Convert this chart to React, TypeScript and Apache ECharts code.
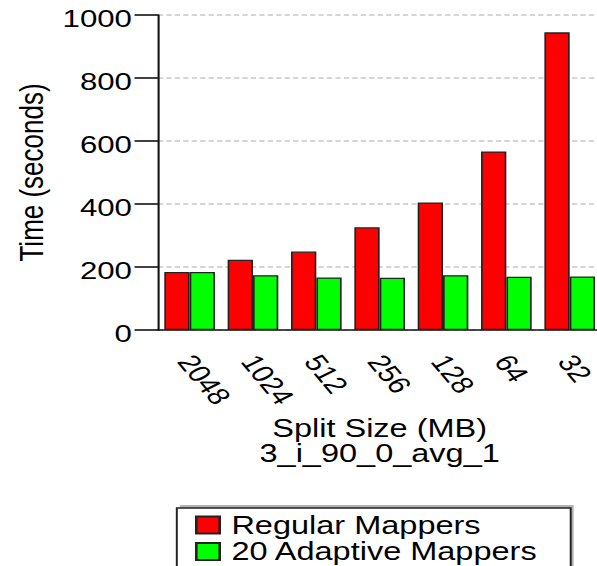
import React, { useEffect, useRef } from "react";
import * as echarts from "echarts";

const categories = ["2048", "1024", "512", "256", "128", "64", "32"];
const regularMappers = [184, 223, 249, 326, 405, 567, 945];
const adaptiveMappers = [184, 174, 167, 166, 174, 169, 170];
const yTicks = { min: 0, max: 1000, interval: 200 };

const SX = 1.3;
const W = 466;
const H = 566;
const FONT = "'Liberation Sans', Arial, Helvetica, sans-serif";

export default function App() {
  const ref = useRef<HTMLDivElement>(null);
  useEffect(() => {
    if (!ref.current) return;
    const chart = echarts.init(ref.current, undefined, { renderer: "svg", width: W, height: H });
    chart.setOption({
      animation: false,
      backgroundColor: "#fff",
      textStyle: { fontFamily: FONT, color: "#000" },
      grid: { left: 121.5, right: 3.4, top: 15, bottom: 236, containLabel: false },
      graphic: [
        {
          type: "rect",
          z: 0,
          silent: true,
          shape: { x: 138.3, y: 505, width: 303, height: 90 },
          style: { fill: "#b4b4b4" },
        },
        {
          type: "rect",
          z: 1,
          silent: true,
          shape: { x: 136, y: 508, width: 303, height: 90 },
          style: { fill: "#fff", stroke: "#222", lineWidth: 1.5 },
        },
      ],
      legend: {
        orient: "vertical",
        left: 150,
        top: 512.5,
        z: 5,
        itemWidth: 18,
        itemHeight: 17,
        itemGap: 1.5,
        padding: 0,
        icon: "rect",
        textStyle: { fontSize: 25, color: "#000", fontFamily: FONT, padding: [0, 0, 0, 4] },
        data: ["Regular Mappers", "20 Adaptive Mappers"],
      },
      xAxis: {
        type: "category",
        data: categories,
        name: "Split Size (MB)\n3_i_90_0_avg_1",
        nameLocation: "middle",
        nameGap: 85,
        nameTextStyle: { fontSize: 25, lineHeight: 25, color: "#000", fontFamily: FONT },
        axisLine: { lineStyle: { color: "#111", width: 1.6 } },
        axisTick: { alignWithLabel: true, length: 17, lineStyle: { color: "#111", width: 1.6 } },
        axisLabel: {
          rotate: -57,
          margin: 25,
          color: "#000",
          fontFamily: FONT,
          interval: 0,
          align: "left",
          verticalAlign: "middle",
          formatter: (v: string) => `{t|${v}}`,
          rich: {
            t: { fontSize: 24, color: "#000", fontFamily: FONT, padding: [8, 0, 0, 0] },
          },
        },
        splitLine: { show: false },
      },
      yAxis: {
        type: "value",
        min: yTicks.min,
        max: yTicks.max,
        interval: yTicks.interval,
        name: "Time (seconds)",
        nameLocation: "middle",
        nameGap: 68,
        nameTextStyle: { fontSize: 26, color: "#000", fontFamily: FONT },
        axisLine: { show: true, lineStyle: { color: "#111", width: 1.6 } },
        axisTick: { show: true, length: 18, lineStyle: { color: "#111", width: 1.6 } },
        axisLabel: {
          margin: 20,
          color: "#000",
          fontFamily: FONT,
          formatter: (v: number) => `{v|${v}}`,
          rich: {
            v: { fontSize: 24, color: "#000", fontFamily: FONT, padding: [8, 0, 0, 0] },
          },
        },
        splitLine: { show: true, lineStyle: { color: "#c8c8c8", width: 1.5, type: [4, 2.5] } },
      },
      series: [
        {
          name: "Regular Mappers",
          type: "bar",
          data: regularMappers,
          barGap: "0%",
          barCategoryGap: "20%",
          itemStyle: { color: "#ff0000", borderColor: "#222", borderWidth: 1.3 },
        },
        {
          name: "20 Adaptive Mappers",
          type: "bar",
          data: adaptiveMappers,
          barGap: "0%",
          barCategoryGap: "20%",
          itemStyle: { color: "#00ff00", borderColor: "#222", borderWidth: 1.3 },
        },
      ],
    });
    return () => chart.dispose();
  }, []);
  return (
    <div style={{ position: "fixed", left: 0, top: 0, width: 597, height: 566, overflow: "hidden", background: "#fff" }}>
      <div
        ref={ref}
        style={{ width: W, height: H, transform: `scaleX(${SX})`, transformOrigin: "0 0" }}
      />
    </div>
  );
}
